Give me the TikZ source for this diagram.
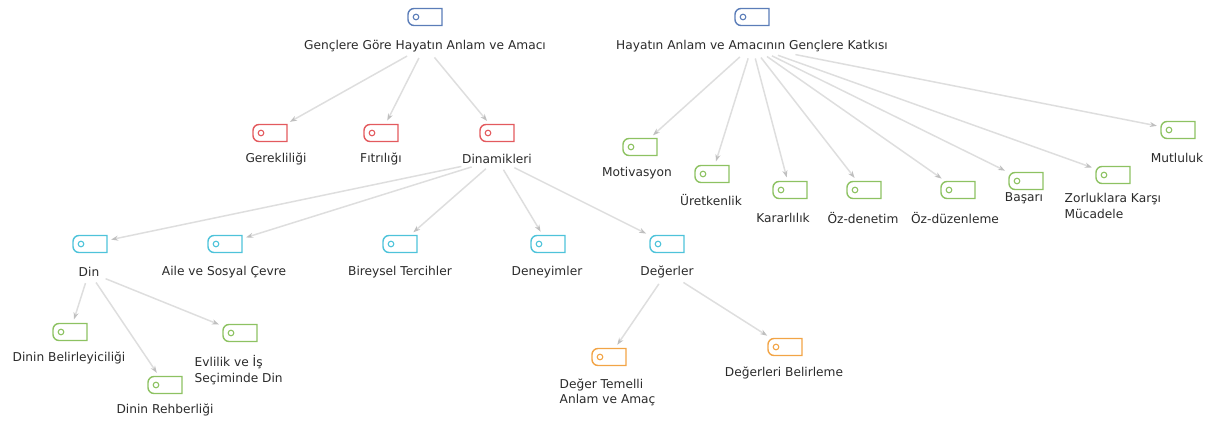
\documentclass[tikz,border=0pt]{standalone}
\usepackage{fontspec}
\setmainfont{DejaVu Sans}
\usetikzlibrary{arrows.meta}
\definecolor{cblue}{HTML}{5B7DB8}
\definecolor{cred}{HTML}{E35A5E}
\definecolor{cgreen}{HTML}{8DC262}
\definecolor{ccyan}{HTML}{4EC3DA}
\definecolor{corange}{HTML}{F2A446}
\definecolor{ctext}{HTML}{2A2A2A}
\tikzset{
  x=1pt,y=-1pt,
  tagbox/.style={draw=none,minimum width=36pt,minimum height=19pt,inner sep=0pt},
  lbl/.style={font=\fontsize{12.2}{15.5}\selectfont,text=ctext,inner sep=1.5pt},
  lbll/.style={lbl,align=left,anchor=north west},
  edge/.style={draw=black!13,line width=1.5pt,-{Stealth[length=7pt,width=5pt,color=black!25]},shorten >=3pt,shorten <=5pt},
  pics/tag/.style={code={
    \draw[line width=1.4pt] (0,8.5) [rounded corners=6pt] -- (-17,8.5) -- (-17,-8.5) -- (0,-8.5) [sharp corners] -- (17,-8.5) -- (17,8.5) -- cycle;
    \draw[line width=1.1pt] (-9,0) circle (2.8);
  }}
}
\newcommand\tagat[3]{\node[tagbox] (#1) at (#2) {}; \pic[color=#3] at (#1) {tag};}
\begin{document}
\begin{tikzpicture}
\useasboundingbox (0,0) rectangle (1219,430);
% roots
\tagat{r1}{425,17}{cblue}
\node[lbl] (r1t) at (425,46) {Gençlere Göre Hayatın Anlam ve Amacı};
\tagat{r2}{752,17}{cblue}
\node[lbl] (r2t) at (752,46) {Hayatın Anlam ve Amacının Gençlere Katkısı};
% red
\tagat{ger}{270,133}{cred}
\node[lbl] (gert) at (276,159) {Gerekliliği};
\tagat{fit}{381,133}{cred}
\node[lbl] (fitt) at (381,159) {Fıtrılığı};
\tagat{din}{497,133}{cred}
\node[lbl] (dint) at (497,159) {Dinamikleri};
% green right
\tagat{mot}{640,147}{cgreen}
\node[lbl] (mott) at (637,173) {Motivasyon};
\tagat{ure}{712,174}{cgreen}
\node[lbl] (uret) at (711,200) {Üretkenlik};
\tagat{kar}{790,190}{cgreen}
\node[lbl] (kart) at (783,218) {Kararlılık};
\tagat{ozd}{864,190}{cgreen}
\node[lbl] (ozdt) at (863,218) {Öz-denetim};
\tagat{ozz}{958,190}{cgreen}
\node[lbl] (ozzt) at (955,218) {Öz-düzenleme};
\tagat{bas}{1026,181}{cgreen}
\node[lbl] (bast) at (1024,198) {Başarı};
\tagat{zor}{1113,175}{cgreen}
\node[lbll] (zort) at (1063,192) {Zorluklara Karşı\\Mücadele};
\tagat{mut}{1178,130}{cgreen}
\node[lbl] (mutt) at (1177,158) {Mutluluk};
% cyan
\tagat{dn}{90,244}{ccyan}
\node[lbl] (dnt) at (89,272) {Din};
\tagat{ail}{225,244}{ccyan}
\node[lbl] (ailt) at (224,272) {Aile ve Sosyal Çevre};
\tagat{bir}{400,244}{ccyan}
\node[lbl] (birt) at (400,272) {Bireysel Tercihler};
\tagat{den}{548,244}{ccyan}
\node[lbl] (dent) at (547,272) {Deneyimler};
\tagat{deg}{667,244}{ccyan}
\node[lbl] (degt) at (667,272) {Değerler};
% green bottom-left
\tagat{bel}{70,332}{cgreen}
\node[lbl] (belt) at (69,358) {Dinin Belirleyiciliği};
\tagat{evl}{240,333}{cgreen}
\node[lbll] (evlt) at (193,354) {Evlilik ve İş\\Seçiminde Din};
\tagat{reh}{165,385}{cgreen}
\node[lbl] (reht) at (165,410) {Dinin Rehberliği};
% orange
\tagat{dtm}{609,357}{corange}
\node[lbll] (dtmt) at (558,377) {Değer Temelli\\Anlam ve Amaç};
\tagat{dbl}{785,347}{corange}
\node[lbl] (dblt) at (784,373) {Değerleri Belirleme};
% edges
\draw[edge] (r1t) -- (ger);
\draw[edge] (r1t) -- (fit);
\draw[edge] (r1t) -- (din);
\draw[edge] (r2t) -- (mot);
\draw[edge] (r2t) -- (ure);
\draw[edge] (r2t) -- (kar);
\draw[edge] (r2t) -- (ozd);
\draw[edge] (r2t) -- (ozz);
\draw[edge] (r2t) -- (bas);
\draw[edge] (r2t) -- (zor);
\draw[edge] (r2t) -- (mut);
\draw[edge] (dint) -- (dn);
\draw[edge] (dint) -- (ail);
\draw[edge] (dint) -- (bir);
\draw[edge] (dint) -- (den);
\draw[edge] (dint) -- (deg);
\draw[edge] (dnt) -- (bel);
\draw[edge] (dnt) -- (reh);
\draw[edge] (dnt) -- (evl);
\draw[edge] (degt) -- (dtm);
\draw[edge] (degt) -- (dbl);
\end{tikzpicture}
\end{document}
